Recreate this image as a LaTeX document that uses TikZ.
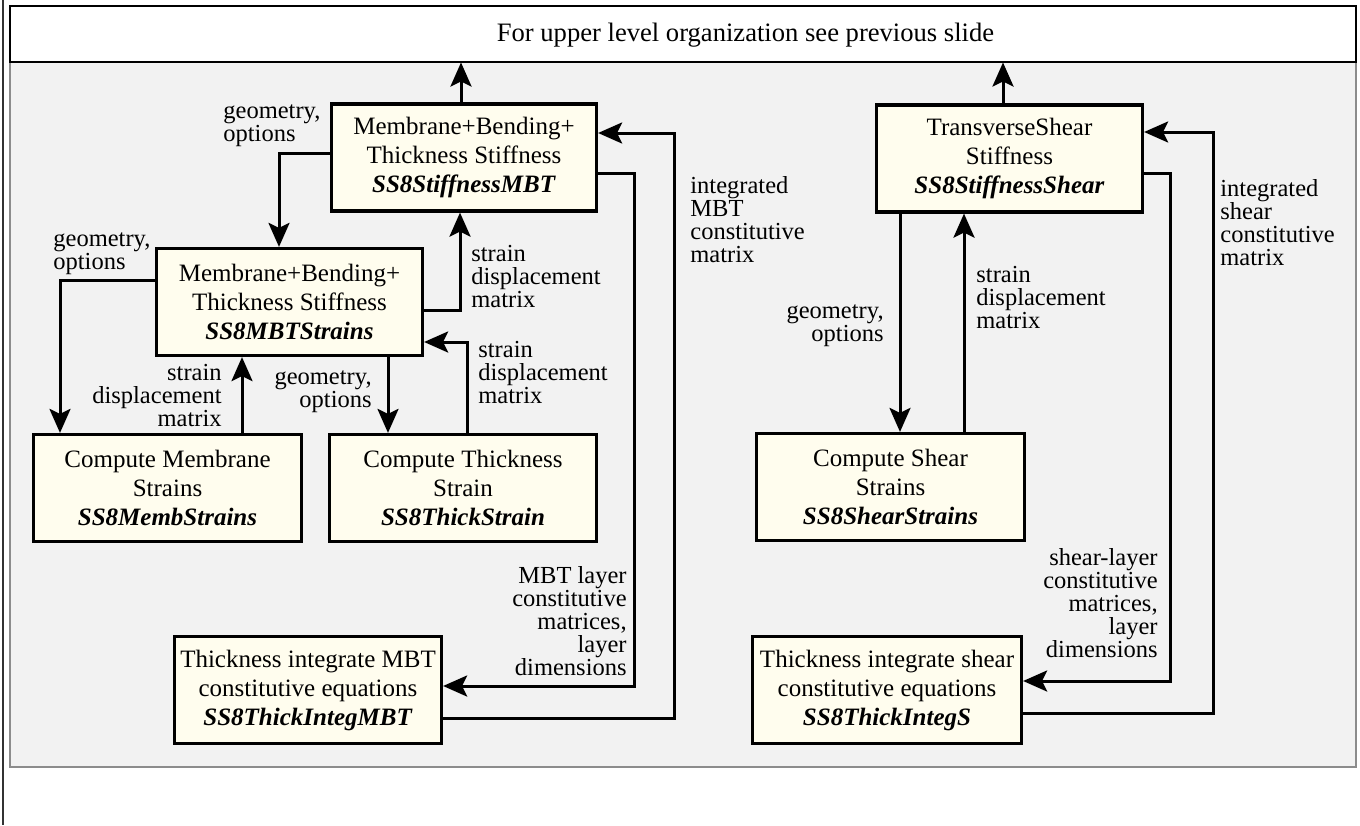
\documentclass[tikz,border=0pt]{standalone}
\usepackage{fontspec}
\setmainfont{Liberation Serif}
\usetikzlibrary{arrows.meta}
\definecolor{panel}{RGB}{242,242,242}
\definecolor{boxfill}{RGB}{255,253,238}
\newcommand\boxfont{\fontsize{12.5pt}{14.5pt}\selectfont}
\newcommand\lblfont{\fontsize{12.25pt}{11.5pt}\selectfont}

\begin{document}
\begin{tikzpicture}[x=0.5pt,y=-0.5pt,
    proc/.style={rectangle,draw,line width=1.6pt,fill=boxfill,align=center,font=\boxfont,minimum height=53.5pt,inner sep=1pt},
    lbl/.style={inner sep=0pt,font=\lblfont},
    arr/.style={-{Stealth[length=12pt,width=10.5pt,inset=2.5pt]},line width=1.5pt}]
    \useasboundingbox (0,0) rectangle (1360,825);
    %\draw[red] (0,0) grid[step=100] (1360,825);
    \draw[line width=0.8pt,black!80] (3,0) -- (3,825);
    \draw[line width=1pt,draw=black!45,fill=panel] (10,62) rectangle (1356,767);
    \node[draw,line width=1pt,fill=white,minimum width=673pt,minimum height=28pt,inner sep=0pt] (hdr) at (682.5,33.5) {};
    \node[inner sep=0pt,font=\fontsize{13.3pt}{15pt}\selectfont] (hdrtxt) at (745.5,35) {For upper level organization see previous slide};

      \node[proc,minimum width=132.5pt] (mbt) at (464,157.5)
        {Membrane+Bending+\\Thickness Stiffness\\\textbf{\textit{SS8StiffnessMBT}}};
      \node[proc,minimum width=133pt] (mbtstr) at (289.5,302)
        {Membrane+Bending+\\Thickness Stiffness\\\textbf{\textit{SS8MBTStrains}}};
      \node[proc,minimum width=134pt] (memb) at (167.5,488)
        {Compute Membrane\\Strains\\\textbf{\textit{SS8MembStrains}}};
      \node[proc,minimum width=133.5pt] (thick) at (463,488)
        {Compute Thickness\\Strain\\\textbf{\textit{SS8ThickStrain}}};
      \node[proc,minimum width=133.5pt] (intmbt) at (308,690)
        {Thickness integrate MBT\\constitutive equations\\\textbf{\textit{SS8ThickIntegMBT}}};
      \node[proc,minimum width=133pt] (shear) at (1009.5,158.5)
        {TransverseShear\\Stiffness\\\textbf{\textit{SS8StiffnessShear}}};
      \node[proc,minimum width=134pt] (shstr) at (890.5,487)
        {Compute Shear\\Strains\\\textbf{\textit{SS8ShearStrains}}};
      \node[proc,minimum width=134.5pt] (ints) at (887,690)
        {Thickness integrate shear\\constitutive equations\\\textbf{\textit{SS8ThickIntegS}}};

      \draw[arr] (461,0 |- mbt.north) -- (461,0 |- hdr.south);
      \draw[arr] (1003,0 |- shear.north) -- (1003,0 |- hdr.south);

      \draw[arr] (mbt.west |- 0,153) -| (279,0 |- mbtstr.north);
      \draw[arr] (mbtstr.east |- 0,310) -| (460,0 |- mbt.south);
      \draw[arr] (mbtstr.west |- 0,280) -| (60,0 |- memb.north);
      \draw[arr] (242,0 |- memb.north) -- (242,0 |- mbtstr.south);
      \draw[arr] (388,0 |- mbtstr.south) -- (388,0 |- thick.north);
      \draw[arr] (467,0 |- thick.north) |- (mbtstr.east |- 0,342);
      \draw[arr] (mbt.east |- 0,173) -| (634,686) -- (intmbt.east |- 0,686);
      \draw[arr] (intmbt.east |- 0,718) -| (674,133) -- (mbt.east |- 0,133);

      \draw[arr] (900,0 |- shear.south) -- (900,0 |- shstr.north);
      \draw[arr] (964,0 |- shstr.north) -- (964,0 |- shear.south);
      \draw[arr] (shear.east |- 0,173) -| (1170,681) -- (ints.east |- 0,681);
      \draw[arr] (ints.east |- 0,713) -| (1213,132) -- (shear.east |- 0,132);

      \node[lbl,align=left,anchor=north west] (go1) at (223,104) {geometry,\\options};
      \node[lbl,align=left,anchor=north west] (go2) at (53,232) {geometry,\\options};
      \node[lbl,align=left,anchor=north west] (sd1) at (471,245) {strain\\displacement\\matrix};
      \node[lbl,align=right,anchor=north east] (sd2) at (222,364) {strain\\displacement\\matrix};
      \node[lbl,align=right,anchor=north east] (go3) at (372,370) {geometry,\\options};
      \node[lbl,align=left,anchor=north west] (sd3) at (478,341) {strain\\displacement\\matrix};
      \node[lbl,align=right,anchor=north east] (lay1) at (627,566)
        {MBT layer\\constitutive\\matrices,\\layer\\dimensions};
      \node[lbl,align=left,anchor=north west] (int1) at (690,176)
        {integrated\\MBT\\constitutive\\matrix};
      \node[lbl,align=right,anchor=north east] (go4) at (884,304) {geometry,\\options};
      \node[lbl,align=left,anchor=north west] (sd4) at (976,266) {strain\\displacement\\matrix};
      \node[lbl,align=right,anchor=north east] (lay2) at (1158,548)
        {shear-layer\\constitutive\\matrices,\\layer\\dimensions};
      \node[lbl,align=left,anchor=north west] (int2) at (1220,179)
        {integrated\\shear\\constitutive\\matrix};
\end{tikzpicture}
\end{document}
